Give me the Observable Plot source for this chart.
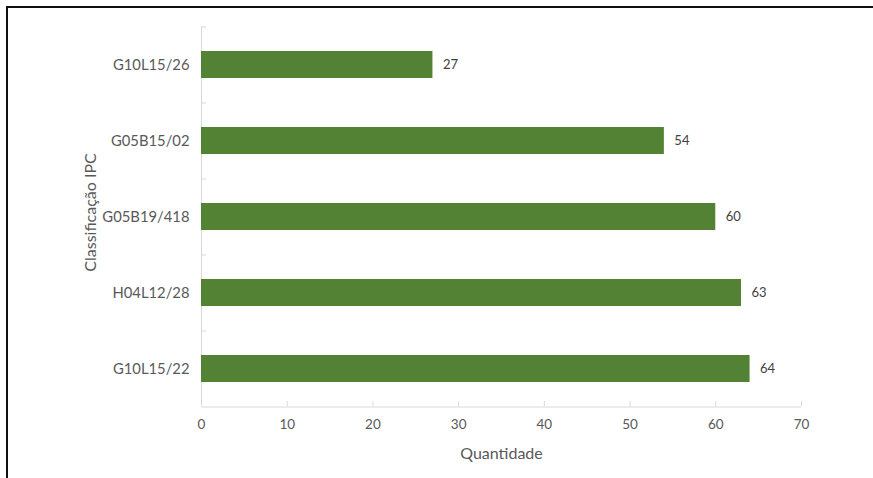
<!DOCTYPE html>
<html>
<head>
<meta charset="utf-8">
<script src="https://cdn.jsdelivr.net/npm/d3@7"></script>
<script src="https://cdn.jsdelivr.net/npm/@observablehq/plot@0.6"></script>
<style>
  html, body { margin: 0; padding: 0; background: #fff; }
  #wrap { position: relative; width: 873px; height: 478px; overflow: hidden; }
  #border { position: absolute; left: 6px; top: 6px; width: 900px; height: 500px;
            border-left: 2px solid #111; border-top: 2px solid #111; pointer-events: none; }
  #chart { position: absolute; left: 0; top: 0; }
</style>
</head>
<body>
<div id="wrap"><div id="chart"></div><div id="border"></div></div>
<script>
const categories = ["G10L15/26", "G05B15/02", "G05B19/418", "H04L12/28", "G10L15/22"];
const values = [27, 54, 60, 63, 64];
const xTicks = [0, 10, 20, 30, 40, 50, 60, 70];
const xTitle = "Quantidade";
const yTitle = "Classificação IPC";

const data = categories.map((c, i) => ({cat: c, val: values[i]}));
const font = "Lato, 'Open Sans', sans-serif";
const axisColor = "#d9d9d9";
const textColor = "#595959";

const chart = Plot.plot({
  width: 873,
  height: 478,
  marginLeft: 201,
  marginRight: 72,
  marginTop: 26,
  marginBottom: 72,
  style: {fontFamily: font, background: "transparent"},
  x: {domain: [0, 70], ticks: xTicks, label: null},
  y: {type: "band", domain: categories, paddingInner: 0.645, paddingOuter: 0.3225, label: null},
  marks: [
    // y axis line
    Plot.ruleX([0], {stroke: axisColor}),
    // x axis line (bottom boundary of last band)
    Plot.ruleY([categories[categories.length - 1]], {y: d => d, dy: 38, x1: 0, x2: 70, stroke: axisColor}),
    // x axis ticks (inward, upward)
    Plot.axisX({ticks: xTicks, tickSize: 5, dy: -5, tickFormat: () => "", stroke: axisColor, strokeOpacity: 1}),
    // x axis labels
    Plot.axisX({ticks: xTicks, tickSize: 0, tickPadding: 13, fill: textColor, fontSize: 13.5, label: null}),
    // y axis labels
    Plot.axisY({tickSize: 0, tickPadding: 12, fill: textColor, fontSize: 14.8, label: null}),
    // y category boundary ticks
    Plot.ruleY(categories, {y: d => d, dy: -38, x1: 0, x2: 0.6, stroke: axisColor}),
    Plot.barX(data, {y: "cat", x: "val", fill: "#548235"}),
    Plot.text(data, {y: "cat", x: "val", text: d => String(d.val), dx: 10, textAnchor: "start",
                     fill: "#404040", fontSize: 13}),
    // axis titles
    Plot.text([xTitle], {frameAnchor: "bottom", dy: 52, text: d => d, fill: textColor, fontSize: 16}),
    Plot.text([yTitle], {frameAnchor: "left", textAnchor: "middle", dx: -111, dy: -4, rotate: -90,
                         text: d => d, fill: textColor, fontSize: 16})
  ]
});
document.getElementById("chart").appendChild(chart);
</script>
</body>
</html>
